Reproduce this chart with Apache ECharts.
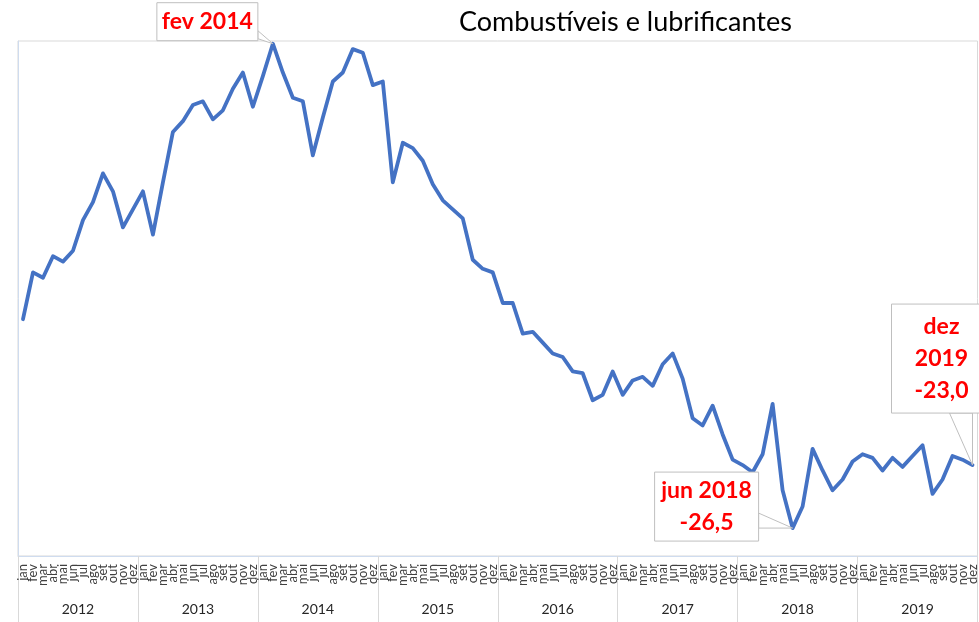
<!DOCTYPE html>
<html>
<head>
<meta charset="utf-8">
<script src="https://cdn.jsdelivr.net/npm/echarts@6/dist/echarts.min.js"></script>
<style>
  html, body { margin: 0; padding: 0; background: #fff; }
  #chart { width: 979px; height: 622px; }
</style>
</head>
<body>
<div id="chart"></div>
<script>
// meses e anos do eixo
var months = ['jan', 'fev', 'mar', 'abr', 'mai', 'jun', 'jul', 'ago', 'set', 'out', 'nov', 'dez']
var years = ['2012', '2013', '2014', '2015', '2016', '2017', '2018', '2019']

// valores (jan 2012 .. dez 2019)
var values2012 = [-14.9, -12.3, -12.6, -11.4, -11.7, -11.1, -9.4, -8.4, -6.8, -7.8, -9.8, -8.8]
var values2013 = [-7.8, -10.2, -7.3, -4.5, -3.9, -3.0, -2.8, -3.8, -3.3, -2.1, -1.2, -3.1]
var values2014 = [-1.4, 0.4, -1.2, -2.6, -2.8, -5.8, -3.7, -1.7, -1.2, 0.1, -0.1, -1.9]
var values2015 = [-1.7, -7.3, -5.1, -5.4, -6.1, -7.4, -8.3, -8.8, -9.3, -11.6, -12.1, -12.3]
var values2016 = [-14.0, -14.0, -15.7, -15.6, -16.2, -16.8, -17.0, -17.8, -17.9, -19.4, -19.1, -17.8]
var values2017 = [-19.1, -18.3, -18.1, -18.6, -17.4, -16.8, -18.2, -20.4, -20.8, -19.7, -21.3, -22.7]
var values2018 = [-23.0, -23.4, -22.4, -19.6, -24.4, -26.5, -25.3, -22.1, -23.3, -24.4, -23.8, -22.8]
var values2019 = [-22.4, -22.6, -23.3, -22.6, -23.1, -22.5, -21.9, -24.6, -23.8, -22.5, -22.7, -23.0]

var values = [].concat(values2012, values2013, values2014, values2015,
  values2016, values2017, values2018, values2019)

var categories = []
years.forEach(function (y) {
  months.forEach(function (m) { categories.push(m + ' ' + y) })
})

// destaques: índice do mês e texto
var highlights = [
  { idx: 25, lines: ['fev 2014'], box: [-116, -41, 101, 38], wedge: [[-15, -13], [-15, -5]] },
  { idx: 77, lines: ['jun 2018', '-26,5'], box: [-138, -56, 104, 69], wedge: [[-34, -15], [-34, 0]] },
  { idx: 95, lines: ['dez', '2019', '-23,0'], box: [-81, -161, 100, 109], wedge: [[-23, -52], [0, -52]] }
]

var chart = echarts.init(document.getElementById('chart'))

chart.setOption({
  animation: false,
  title: {
    text: 'Combustíveis e lubrificantes',
    left: 454,
    top: 4,
    textStyle: { fontFamily: 'Lato', fontSize: 27, fontWeight: 'normal', color: '#000' }
  },
  grid: {
    left: 18, right: 1, top: 41, bottom: 66,
    show: true, borderColor: '#d9d9d9', borderWidth: 1
  },
  xAxis: [
    {
      type: 'category',
      data: categories,
      boundaryGap: true,
      axisLine: { onZero: false, lineStyle: { color: '#cfdcef', width: 1 } },
      axisTick: { show: false },
      axisLabel: {
        interval: 0,
        rotate: 90,
        margin: 8,
        fontFamily: 'Lato',
        fontSize: 13,
        color: '#404040',
        formatter: function (v) { return v.split(' ')[0] }
      }
    },
    {
      type: 'category',
      data: years,
      position: 'bottom',
      boundaryGap: true,
      axisLine: { show: false, onZero: false },
      axisTick: { show: true, length: 66, lineStyle: { color: '#d9d9d9' } },
      axisLabel: { margin: 46, fontFamily: 'Lato', fontSize: 14, color: '#262626' }
    }
  ],
  yAxis: {
    type: 'value',
    min: -28.05,
    max: 0.55,
    axisLine: { show: true, onZero: false, lineStyle: { color: '#cfdcef' } },
    axisTick: { show: false },
    axisLabel: { show: false },
    splitLine: { show: false }
  },
  series: [
    {
      type: 'line',
      data: values,
      xAxisIndex: 0,
      symbol: 'none',
      lineStyle: { color: '#4472c4', width: 3.8, join: 'round', cap: 'round' }
    }
  ]
})

// caixas de destaque posicionadas a partir do ponto no gráfico
var graphics = []
highlights.forEach(function (h) {
  var p = chart.convertToPixel({ xAxisIndex: 0, yAxisIndex: 0 }, [h.idx, values[h.idx]])
  var bx = p[0] + h.box[0], by = p[1] + h.box[1], bw = h.box[2], bh = h.box[3]
  graphics.push({
    type: 'polygon',
    shape: { points: [[p[0] + h.wedge[0][0], p[1] + h.wedge[0][1]], [p[0], p[1]], [p[0] + h.wedge[1][0], p[1] + h.wedge[1][1]]] },
    style: { fill: '#fff', stroke: '#bfbfbf', lineWidth: 1 },
    z: 10
  })
  graphics.push({
    type: 'rect',
    shape: { x: bx, y: by, width: bw, height: bh },
    style: { fill: '#fff', stroke: '#bfbfbf', lineWidth: 1 },
    z: 11
  })
  graphics.push({
    type: 'text',
    x: bx + bw / 2,
    y: by + bh / 2,
    style: {
      text: h.lines.join('\n'),
      font: 'bold 23px Lato',
      fill: '#ff0000',
      align: 'center',
      verticalAlign: 'middle',
      lineHeight: 32
    },
    z: 12
  })
})
chart.setOption({ graphic: graphics })
</script>
</body>
</html>
